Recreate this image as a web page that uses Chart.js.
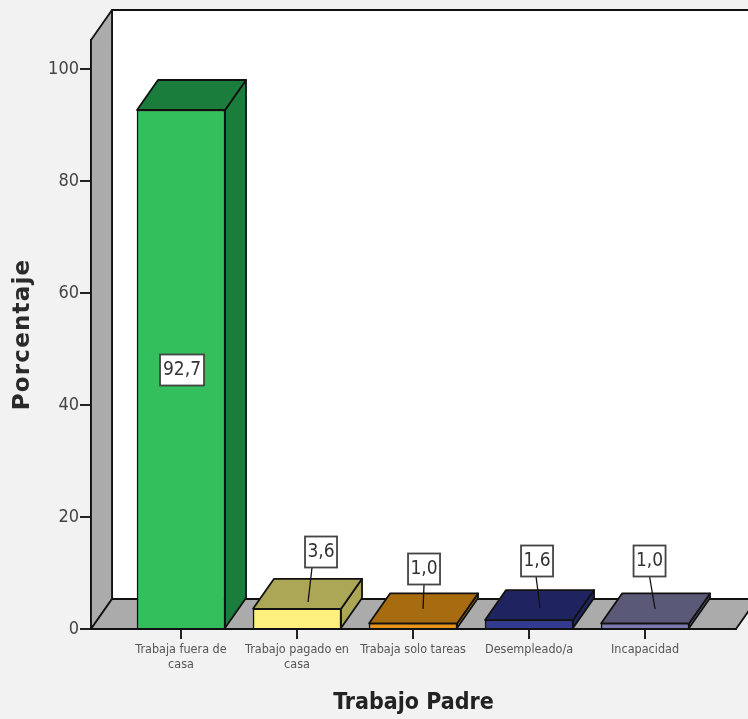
<!DOCTYPE html>
<html><head><meta charset="utf-8">
<style>html,body{margin:0;padding:0;background:#f2f2f2;overflow:hidden}
#w{width:748px;height:719px;position:relative}
canvas{display:block;filter:blur(0.55px)}</style>
<script src="https://cdn.jsdelivr.net/npm/chart.js@4"></script>
</head><body><div id="w"><canvas id="c" width="748" height="719"></canvas></div>
<script>
const categories=[["Trabaja fuera de","casa"],["Trabajo pagado en","casa"],["Trabaja solo tareas"],["Desempleado/a"],["Incapacidad"]];
const values=[92.7,3.6,1.0,1.6,1.0];
const valueLabels=["92,7","3,6","1,0","1,6","1,0"];
const frontColors=["#33bf5b","#fdf07f","#e8941a","#333a8f","#7a7ab0"];
const shadeColors=["#1a7d3b","#aca757","#a86c10","#1f2460","#5a5a78"];
const yTicks=[0,20,40,60,80,100];
const xTitle="Trabajo Padre", yTitle="Porcentaje";
// label box offsets from the bar centre / base; null leader = label inside the bar
const boxOffsetX=[1,24,11,8,4.5];
const boxOffsetY=[-258,-76,-59,-67,-67];
const leaderStartX=[0,-9,0,-1,0];
const leaderEnd=[null,[11,-26],[10,-19],[11,-20],[10,-19]];
const DX=21,DY=-30;
const FONT='"DejaVu Sans Condensed","DejaVu Sans",sans-serif';

function poly(ctx,pts,fill){
  ctx.beginPath();pts.forEach((p,i)=>i?ctx.lineTo(p[0],p[1]):ctx.moveTo(p[0],p[1]));ctx.closePath();
  ctx.fillStyle=fill;ctx.fill();ctx.strokeStyle='#111';ctx.lineWidth=1.8;ctx.lineJoin='round';ctx.stroke();
}
const walls={id:'walls',
  afterLayout(ch){
    const s=ch.scales.y,orig=s.drawTitle;
    if(s._spaced)return;
    s._spaced=true;
    s.drawTitle=function(){ch.ctx.save();ch.ctx.letterSpacing='1.2px';orig.call(this);ch.ctx.restore();};
  },
  beforeDatasetsDraw(ch){
  const {ctx,chartArea:a}=ch;ctx.save();
  poly(ctx,[[a.left+DX,a.top+DY],[ch.width+40,a.top+DY],[ch.width+40,a.bottom+DY],[a.left+DX,a.bottom+DY]],'#ffffff');
  poly(ctx,[[a.left,a.top],[a.left+DX,a.top+DY],[a.left+DX,a.bottom+DY],[a.left,a.bottom]],'#ababab');
  poly(ctx,[[a.left,a.bottom],[a.left+DX,a.bottom+DY],[a.right+DX,a.bottom+DY],[a.right,a.bottom]],'#ababab');
  const m=ch.getDatasetMeta(0);
  m.data.forEach((b,i)=>{
    const l=b.x-b.width/2,r=b.x+b.width/2,t=b.y,bt=b.base;
    poly(ctx,[[r,t],[r+DX,t+DY],[r+DX,bt+DY],[r,bt]],shadeColors[i]);
    poly(ctx,[[l,t],[l+DX,t+DY],[r+DX,t+DY],[r,t]],shadeColors[i]);
  });
  ctx.restore();
}};
const labels={id:'boxes',afterDatasetsDraw(ch){
  const {ctx}=ch;ctx.save();
  const m=ch.getDatasetMeta(0);
  m.data.forEach((b,i)=>{
    const cx=b.x+boxOffsetX[i],cy=b.base+boxOffsetY[i];
    const w=i===0?44:32,h=31;
    if(leaderEnd[i]){
      ctx.beginPath();ctx.moveTo(cx+leaderStartX[i],cy+h/2);ctx.lineTo(b.x+leaderEnd[i][0],b.base+leaderEnd[i][1]);
      ctx.strokeStyle='#111';ctx.lineWidth=1.3;ctx.stroke();
    }
    ctx.fillStyle='#fff';ctx.fillRect(cx-w/2,cy-h/2,w,h);
    ctx.strokeStyle='#444';ctx.lineWidth=1.8;ctx.strokeRect(cx-w/2,cy-h/2,w,h);
    ctx.fillStyle='#333';ctx.font='19px '+FONT;ctx.textAlign='center';ctx.textBaseline='middle';
    ctx.fillText(valueLabels[i],cx,cy+0.5);
  });
  ctx.restore();
}};
new Chart(document.getElementById('c'),{
  type:'bar',
  data:{datasets:[{
    data:values.map((v,i)=>({x:i,y:v})),
    backgroundColor:frontColors,borderColor:'#111',borderWidth:1.5,barThickness:88
  }]},
  plugins:[walls,labels],
  options:{
    responsive:false,animation:false,
    layout:{padding:{top:40,right:12,left:0,bottom:0}},
    plugins:{legend:{display:false},tooltip:{enabled:false}},
    scales:{
      x:{type:'linear',offset:false,min:-0.776,max:4.784,
        afterBuildTicks(s){s.ticks=categories.map((c,i)=>({value:i}));},
        afterFit(s){s.height=90;},
        grid:{offset:false,drawOnChartArea:false,color:'#222',lineWidth:2,tickLength:10},
        border:{color:'#111',width:2},
        ticks:{autoSkip:false,maxRotation:0,minRotation:0,padding:3,color:'#555',
          font:{family:FONT,size:12.5,lineHeight:1.2},
          callback:(v)=>categories[v]},
        title:{display:true,text:xTitle,color:'#222',font:{family:FONT,size:23,weight:'bold'},padding:{top:14,bottom:2}}
      },
      y:{min:0,max:105.2,
        afterBuildTicks(s){s.ticks=yTicks.map(v=>({value:v}));},
        afterFit(s){s.width=91;},
        grid:{drawOnChartArea:false,color:'#222',lineWidth:2,tickLength:11},
        border:{color:'#111',width:2},
        ticks:{color:'#444',padding:1,font:{family:FONT,size:18}},
        title:{display:true,text:yTitle,color:'#2a2a2a',font:{family:'"DejaVu Sans",sans-serif',size:23,weight:'bold'},padding:{top:9,bottom:0}}
      }
    }
  }
});
</script></body></html>
